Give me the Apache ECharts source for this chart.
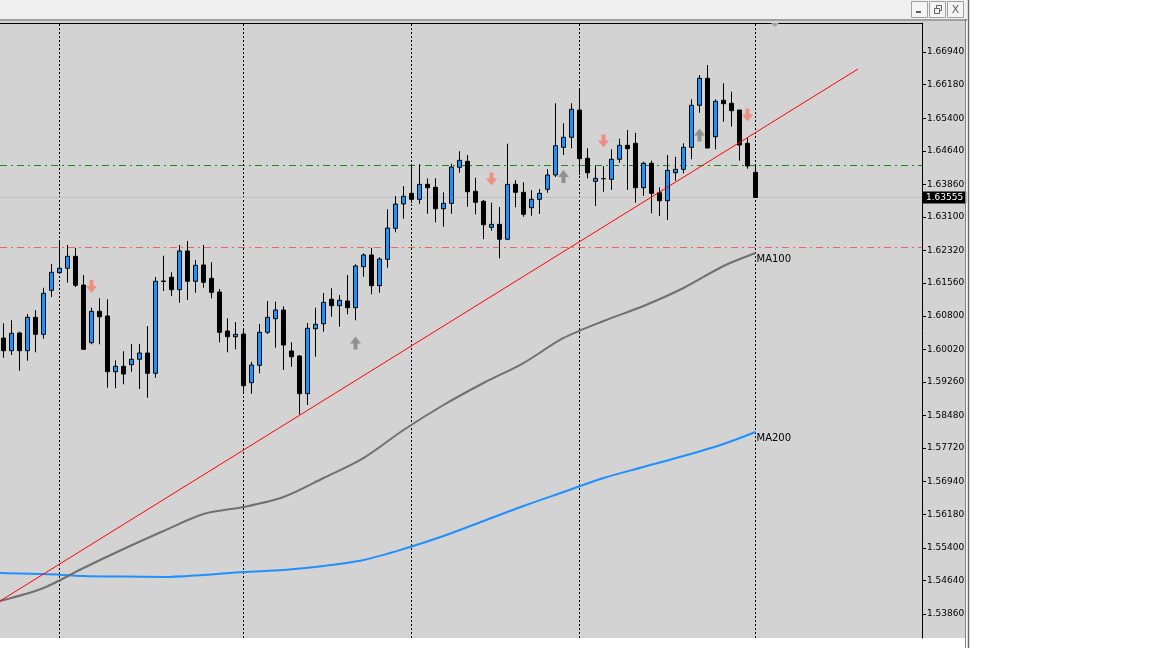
<!DOCTYPE html>
<html><head><meta charset="utf-8">
<script src="https://cdn.jsdelivr.net/npm/echarts@6/dist/echarts.min.js"></script>
<style>html,body{margin:0;padding:0;background:#fff;}#chart{width:1152px;height:648px;}</style>
</head><body><div id="chart"></div>
<script>
// ---- candle data (index = bar number, left to right) ----
const opens  = [1.60283,1.59988,1.60400,1.59988,1.60765,1.60369,1.61394,1.61804,1.61906,1.62185,
1.61517,1.60174,1.60905,1.60796,1.59499,1.59625,1.59662,1.59788,1.59934,1.59462,
1.61599,1.61697,1.61408,1.62309,1.61604,1.61983,1.61673,1.61354,1.60446,1.60313,
1.60376,1.59243,1.59648,1.60416,1.60733,1.60935,1.59981,1.59864,1.58987,1.60500,
1.60614,1.61184,1.61035,1.61145,1.60989,1.61943,1.62216,1.61501,1.62115,1.62836,
1.63402,1.63651,1.63511,1.63860,1.63790,1.63293,1.63418,1.64256,1.64396,1.63698,
1.63465,1.62860,1.62929,1.62581,1.63860,1.63674,1.63316,1.63511,1.63744,1.64077,
1.64722,1.64955,1.65590,1.64466,1.63930,1.63995,1.63977,1.64443,1.64768,1.64815,
1.63782,1.64350,1.63665,1.63479,1.64130,1.64209,1.64722,1.65700,1.66328,1.64969,
1.65816,1.65746,1.65590,1.64815,1.64140];
const highs  = [1.60626,1.60695,1.60430,1.60842,1.60935,1.61454,1.62006,1.62565,1.62448,1.62379,
1.61750,1.60989,1.61208,1.61184,1.59764,1.59974,1.60144,1.60144,1.60563,1.61704,
1.62199,1.61813,1.62448,1.62542,1.62099,1.62448,1.62046,1.61424,1.60742,1.60656,
1.60493,1.59732,1.60609,1.61145,1.61128,1.61021,1.60183,1.59888,1.60633,1.60989,
1.61331,1.61440,1.61284,1.61750,1.61999,1.62255,1.62386,1.62162,1.63279,1.63588,
1.63821,1.64310,1.64326,1.64000,1.64000,1.63674,1.64340,1.64629,1.64543,1.64014,
1.63495,1.63432,1.63332,1.64806,1.63961,1.63907,1.63728,1.63751,1.64217,1.65746,
1.65280,1.65746,1.66072,1.64699,1.64286,1.64286,1.64675,1.64922,1.65124,1.65061,
1.64387,1.64410,1.63790,1.64543,1.64503,1.64815,1.65839,1.66405,1.66637,1.65839,
1.66211,1.66016,1.65590,1.64954,1.64310];
const lows   = [1.59825,1.59888,1.59522,1.59755,1.59950,1.60267,1.61238,1.61785,1.61571,1.61470,
1.60020,1.60137,1.60137,1.59127,1.59113,1.59205,1.59499,1.59097,1.58894,1.59359,
1.61377,1.61261,1.61105,1.61168,1.61338,1.61454,1.61208,1.60183,1.59950,1.60020,
1.59034,1.58987,1.59462,1.60376,1.60058,1.59539,1.59615,1.58507,1.58724,1.59848,
1.60430,1.60779,1.60548,1.60835,1.60695,1.61711,1.61301,1.61338,1.61920,1.62743,
1.63060,1.63425,1.63409,1.63177,1.62976,1.62871,1.63177,1.64130,1.63339,1.63162,
1.62581,1.62781,1.62138,1.62560,1.63325,1.63106,1.63130,1.63169,1.63665,1.64031,
1.64543,1.64699,1.64077,1.64000,1.63356,1.63688,1.63728,1.64363,1.63728,1.63432,
1.63588,1.63186,1.63123,1.63030,1.63945,1.64116,1.64443,1.65527,1.64705,1.64675,
1.65318,1.65202,1.64410,1.64224,1.63555];
const closes = [1.59988,1.60393,1.59988,1.60765,1.60369,1.61324,1.61813,1.61906,1.62185,1.61510,
1.60020,1.60905,1.60779,1.59499,1.59625,1.59445,1.59788,1.59934,1.59462,1.61604,
1.61611,1.61408,1.62309,1.61604,1.61976,1.61581,1.61347,1.60416,1.60313,1.60369,
1.59173,1.59655,1.60416,1.60765,1.60935,1.60120,1.59848,1.58987,1.60509,1.60602,
1.61114,1.61035,1.61161,1.60989,1.61960,1.62216,1.61501,1.62122,1.62843,1.63402,
1.63581,1.63511,1.63860,1.63781,1.63293,1.63418,1.64263,1.64419,1.63688,1.63442,
1.62920,1.62929,1.62581,1.63860,1.63674,1.63162,1.63511,1.63651,1.64077,1.64759,
1.64955,1.65607,1.64457,1.64130,1.64000,1.63990,1.64443,1.64768,1.64689,1.63782,
1.64350,1.63651,1.63479,1.64186,1.64209,1.64722,1.65700,1.66328,1.64705,1.65792,
1.65737,1.65574,1.64775,1.64287,1.63555];

// ---- moving averages (read at sample bars) ----
const maIdx  = [-0.44,5,10,15,20,25,30,35,40,45,50,55,60,65,70,75,80,85,90,94];
const ma100  = [1.54162,1.54465,1.54930,1.55373,1.55791,1.56187,1.56350,1.56583,1.57025,1.57490,
1.58142,1.58724,1.59236,1.59701,1.60284,1.60679,1.61028,1.61447,1.61959,1.62262];
const ma200  = [1.54814,1.54790,1.54744,1.54730,1.54721,1.54770,1.54837,1.54884,1.54977,1.55117,
1.55373,1.55675,1.56024,1.56373,1.56699,1.57025,1.57281,1.57537,1.57817,1.58096];

// ---- objects ----
const trendX = [-0.4375, 106.81];
const trendY = [1.54162, 1.66544];
const levelX = [-0.4375, 114.8125];
const resistanceLevel = 1.64310;
const supportLevel = 1.62402;
const bidPrice = 1.63555;
const separatorBars = [7, 30, 51, 72, 94];
const sellBars = [11, 61, 75, 93];
const sellPrices = [1.61482, 1.63984, 1.64868, 1.65474];
const buyBars = [44, 70, 87];
const buyPrices = [1.60167, 1.64042, 1.65008];
const priceTicks = [1.53860,1.54640,1.55400,1.56180,1.56940,1.57720,1.58480,1.59260,1.60020,
1.60800,1.61560,1.62320,1.63100,1.63860,1.64640,1.65400,1.66180,1.66940];

const candles = opens.map((o, i) => [i, o, closes[i], lows[i], highs[i]]);
const downArrow = 'path://M3.5,0 L7.5,0 L7.5,6 L11,6 L5.5,13 L0,6 L3.5,6 Z';
const upArrow = 'path://M5.5,0 L11,7 L7.5,7 L7.5,13 L3.5,13 L3.5,7 L0,7 Z';

const chart = echarts.init(document.getElementById('chart'));
chart.setOption({
  animation: false,
  backgroundColor: '#ffffff',
  grid: { left: 0, top: 23, width: 922, height: 615, containLabel: false },
  xAxis: { type: 'value', min: -0.4375, max: 114.8125, show: false },
  yAxis: {
    type: 'value', position: 'right', min: 1.53301, max: 1.67615, scale: true,
    axisLine: { show: true, onZero: false, lineStyle: { color: '#000', width: 1 } },
    axisTick: { show: true, length: 4, customValues: priceTicks, lineStyle: { color: '#000' } },
    axisLabel: { customValues: priceTicks, formatter: v => v.toFixed(5), margin: 5,
      fontSize: 9, fontFamily: 'DejaVu Sans', color: '#000' },
    splitLine: { show: false }
  },
  graphic: [
    { type: 'rect', z: -10, silent: true, shape: { x: 0, y: 0, width: 967, height: 19 }, style: { fill: '#F0F0F0' } },
    { type: 'rect', z: -10, silent: true, shape: { x: 0, y: 19, width: 967, height: 2 }, style: { fill: '#A0A0A0' } },
    { type: 'rect', z: -10, silent: true, shape: { x: 0, y: 21, width: 965, height: 617 }, style: { fill: '#D3D3D3' } },
    { type: 'line', z: 5, silent: true, shape: { x1: 0, y1: 23.5, x2: 922, y2: 23.5 }, style: { stroke: '#000', lineWidth: 1 } },
    { type: 'line', z: 5, silent: true, shape: { x1: 965.5, y1: 19, x2: 965.5, y2: 648 }, style: { stroke: '#808080', lineWidth: 1 } },
    { type: 'line', z: 5, silent: true, shape: { x1: 968.5, y1: 0, x2: 968.5, y2: 648 }, style: { stroke: '#696969', lineWidth: 1.5 } },
    { type: 'polygon', z: 5, silent: true, shape: { points: [[771, 23], [779, 23], [775, 27]] }, style: { fill: '#A0A0A0' } },
    { type: 'rect', z: 5, silent: true, shape: { x: 911.5, y: 1.5, width: 16, height: 16 }, style: { fill: '#F4F4F4', stroke: '#A0A0A0' } },
    { type: 'rect', z: 5, silent: true, shape: { x: 929.5, y: 1.5, width: 16, height: 16 }, style: { fill: '#F4F4F4', stroke: '#A0A0A0' } },
    { type: 'rect', z: 5, silent: true, shape: { x: 947.5, y: 1.5, width: 16, height: 16 }, style: { fill: '#F4F4F4', stroke: '#A0A0A0' } },
    { type: 'rect', z: 6, silent: true, shape: { x: 916, y: 11, width: 5, height: 2 }, style: { fill: '#606060' } },
    { type: 'rect', z: 6, silent: true, shape: { x: 936.5, y: 5.5, width: 5, height: 5 }, style: { fill: 'none', stroke: '#606060' } },
    { type: 'rect', z: 6, silent: true, shape: { x: 934.5, y: 8.5, width: 5, height: 5 }, style: { fill: '#F4F4F4', stroke: '#606060' } },
    { type: 'text', z: 6, silent: true, style: { x: 955.5, y: 10, text: 'X', fontSize: 11, fontFamily: 'DejaVu Sans', fill: '#606060', align: 'center', verticalAlign: 'middle' } }
  ],
  series: [
    {
      type: 'line', name: 'bid', data: levelX.map(x => [x, bidPrice]), symbol: 'none', z: 1, silent: true,
      color: '#BDBDBD', lineStyle: { color: '#BDBDBD', width: 1 },
      endLabel: { show: true, distance: 1, formatter: p => Number(p.value[1]).toFixed(5),
        backgroundColor: '#000', color: '#fff', padding: [2, 3, 1, 3], fontSize: 9, fontFamily: 'DejaVu Sans' }
    },
    {
      type: 'line', name: 'MA200', data: maIdx.map((x, i) => [x, ma200[i]]), smooth: 0.3,
      symbol: 'none', lineStyle: { color: '#1E90FF', width: 2 }, z: 2,
      endLabel: { show: true, formatter: 'MA200', distance: 1, offset: [0, 6], fontSize: 10, fontFamily: 'DejaVu Sans', color: '#000' }
    },
    {
      type: 'line', name: 'MA100', data: maIdx.map((x, i) => [x, ma100[i]]), smooth: 0.3,
      symbol: 'none', lineStyle: { color: '#707070', width: 2 }, z: 2,
      endLabel: { show: true, formatter: 'MA100', distance: 1, offset: [0, 6], fontSize: 10, fontFamily: 'DejaVu Sans', color: '#000' }
    },
    {
      type: 'candlestick', data: candles, encode: { x: 0, y: [1, 2, 3, 4] }, barWidth: 4, z: 3,
      itemStyle: { color: '#1E90FF', color0: '#000000', borderColor: '#000000', borderColor0: '#000000', borderWidth: 1 },
      markLine: {
        silent: true, symbol: 'none', animation: false, precision: 5, z: 1,
        label: { show: false },
        data: [
          { yAxis: resistanceLevel, lineStyle: { color: '#1A8A1A', width: 1, type: [7, 4, 2, 4] } },
          { yAxis: supportLevel, lineStyle: { color: '#F06A45', width: 1, type: [7, 4, 2, 4] } }
        ].concat(separatorBars.map(b => ({ xAxis: b, lineStyle: { color: '#000', width: 1, type: [2, 2] } })))
      }
    },
    {
      type: 'line', name: 'trend', data: trendX.map((x, i) => [x, trendY[i]]), symbol: 'none',
      lineStyle: { color: '#FF0000', width: 1 }, z: 4
    },
    {
      type: 'scatter', data: sellBars.map((b, i) => [b, sellPrices[i]]), symbol: downArrow,
      symbolSize: [11, 13], itemStyle: { color: '#F4806E' }, z: 5
    },
    {
      type: 'scatter', data: buyBars.map((b, i) => [b, buyPrices[i]]), symbol: upArrow,
      symbolSize: [11, 13], itemStyle: { color: '#808080' }, z: 5
    }
  ]
});
</script></body></html>
